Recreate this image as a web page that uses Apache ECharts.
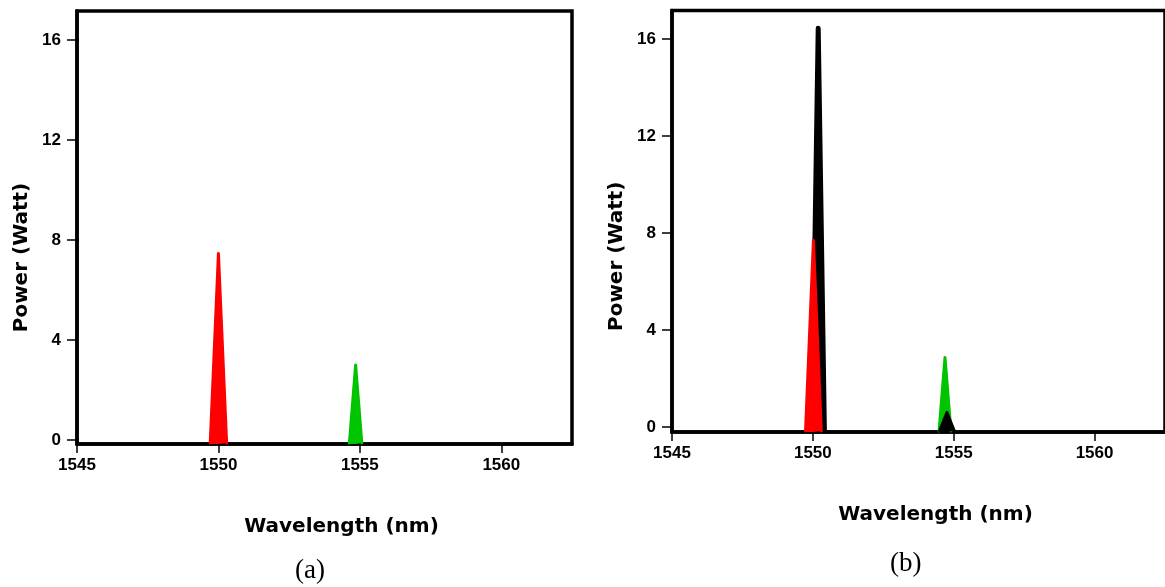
<!DOCTYPE html>
<html>
<head>
<meta charset="utf-8">
<script src="https://cdn.jsdelivr.net/npm/echarts@6/dist/echarts.min.js"></script>
<style>
  html, body { margin: 0; padding: 0; background: #fff; }
  #chart { width: 1165px; height: 587px; }
</style>
</head>
<body>
<div id="chart"></div>
<script>
// tick labels
const xTicks = [1545, 1550, 1555, 1560]
const yTicks = [0, 4, 8, 12, 16]

// panel (a): [wavelength nm, power W]
const aRed = [[1549.71, -0.12], [1550.0, 7.46], [1550.29, -0.12]]
const aGreen = [[1554.63, -0.12], [1554.85, 3.0], [1555.07, -0.12]]

// panel (b)
const bRed = [[1549.74, -0.16], [1550.02, 7.7], [1550.3, -0.16]]
const bBlackMain = [[1549.97, -0.16], [1550.19, 16.45], [1550.41, -0.16]]
const bGreen = [[1554.48, -0.16], [1554.69, 2.87], [1554.9, -0.16]]
const bBlackSide = [[1554.5, -0.16], [1554.76, 0.6], [1555.02, -0.16]]

const chart = echarts.init(document.getElementById('chart'))

const labelFont = {
  color: '#000',
  fontFamily: 'Liberation Sans',
  fontWeight: 'bold',
  fontSize: 17
}
const nameFont = {
  color: '#000',
  fontFamily: 'DejaVu Sans',
  fontWeight: 'bold',
  fontSize: 20
}

function plain(v) {
  return String(v)
}

function xAxisFor(gridIndex, max) {
  return {
    type: 'value',
    gridIndex: gridIndex,
    min: 1545,
    max: max,
    name: 'Wavelength (nm)',
    nameLocation: 'middle',
    nameGap: 73,
    nameTextStyle: Object.assign({ padding: [0, 0, 0, 34] }, nameFont),
    axisLine: { onZero: false, lineStyle: { color: '#000', width: 3.5 } },
    axisTick: { customValues: xTicks, length: 9, lineStyle: { color: '#000', width: 1.5 } },
    axisLabel: Object.assign({ customValues: xTicks, margin: 13, formatter: plain }, labelFont),
    splitLine: { show: false }
  }
}

function yAxisFor(gridIndex, min, max, shift) {
  return {
    type: 'value',
    gridIndex: gridIndex,
    min: min,
    max: max,
    name: 'Power (Watt)',
    nameLocation: 'middle',
    nameGap: 45,
    nameTextStyle: Object.assign({ padding: [0, shift, 0, 0] }, nameFont),
    axisLine: { lineStyle: { color: '#000', width: 3.5 } },
    axisTick: { customValues: yTicks, length: 10, lineStyle: { color: '#000', width: 1.5 } },
    axisLabel: Object.assign({ customValues: yTicks, margin: 16, formatter: plain }, labelFont),
    splitLine: { show: false }
  }
}

// each peak gets its own z so its fill and outline stack in drawing order
function peak(data, color, xi, width, z) {
  return {
    type: 'line',
    xAxisIndex: xi,
    yAxisIndex: xi,
    data: data,
    symbol: 'none',
    smooth: false,
    lineStyle: { color: color, width: width, join: 'round', cap: 'round' },
    areaStyle: { color: color, opacity: 1, origin: 'start' },
    z: z
  }
}

chart.setOption({
  animation: false,
  backgroundColor: '#fff',
  grid: [
    { left: 77, top: 11, width: 495, height: 433, show: true, borderColor: '#000', borderWidth: 3.5 },
    { left: 672, top: 10.5, width: 502, height: 421.5, show: true, borderColor: '#000', borderWidth: 3.5 }
  ],
  xAxis: [xAxisFor(0, 1562.5), xAxisFor(1, 1562.5)],
  yAxis: [yAxisFor(0, -0.16, 17.16, 60), yAxisFor(1, -0.206, 17.18, 70)],
  series: [
    peak(aRed, '#ff0000', 0, 3, 3),
    peak(aGreen, '#00c400', 0, 3, 3),
    peak(bBlackMain, '#000000', 1, 5, 3),
    peak(bGreen, '#00c400', 1, 3, 4),
    peak(bBlackSide, '#000000', 1, 3, 5),
    peak(bRed, '#ff0000', 1, 3, 6)
  ],
  graphic: [
    {
      type: 'text', left: 295, top: 557,
      style: { text: '(a)', fill: '#000', font: '27px "Liberation Serif"' }
    },
    {
      type: 'text', left: 890, top: 550,
      style: { text: '(b)', fill: '#000', font: '27px "Liberation Serif"' }
    }
  ]
})
</script>
</body>
</html>
